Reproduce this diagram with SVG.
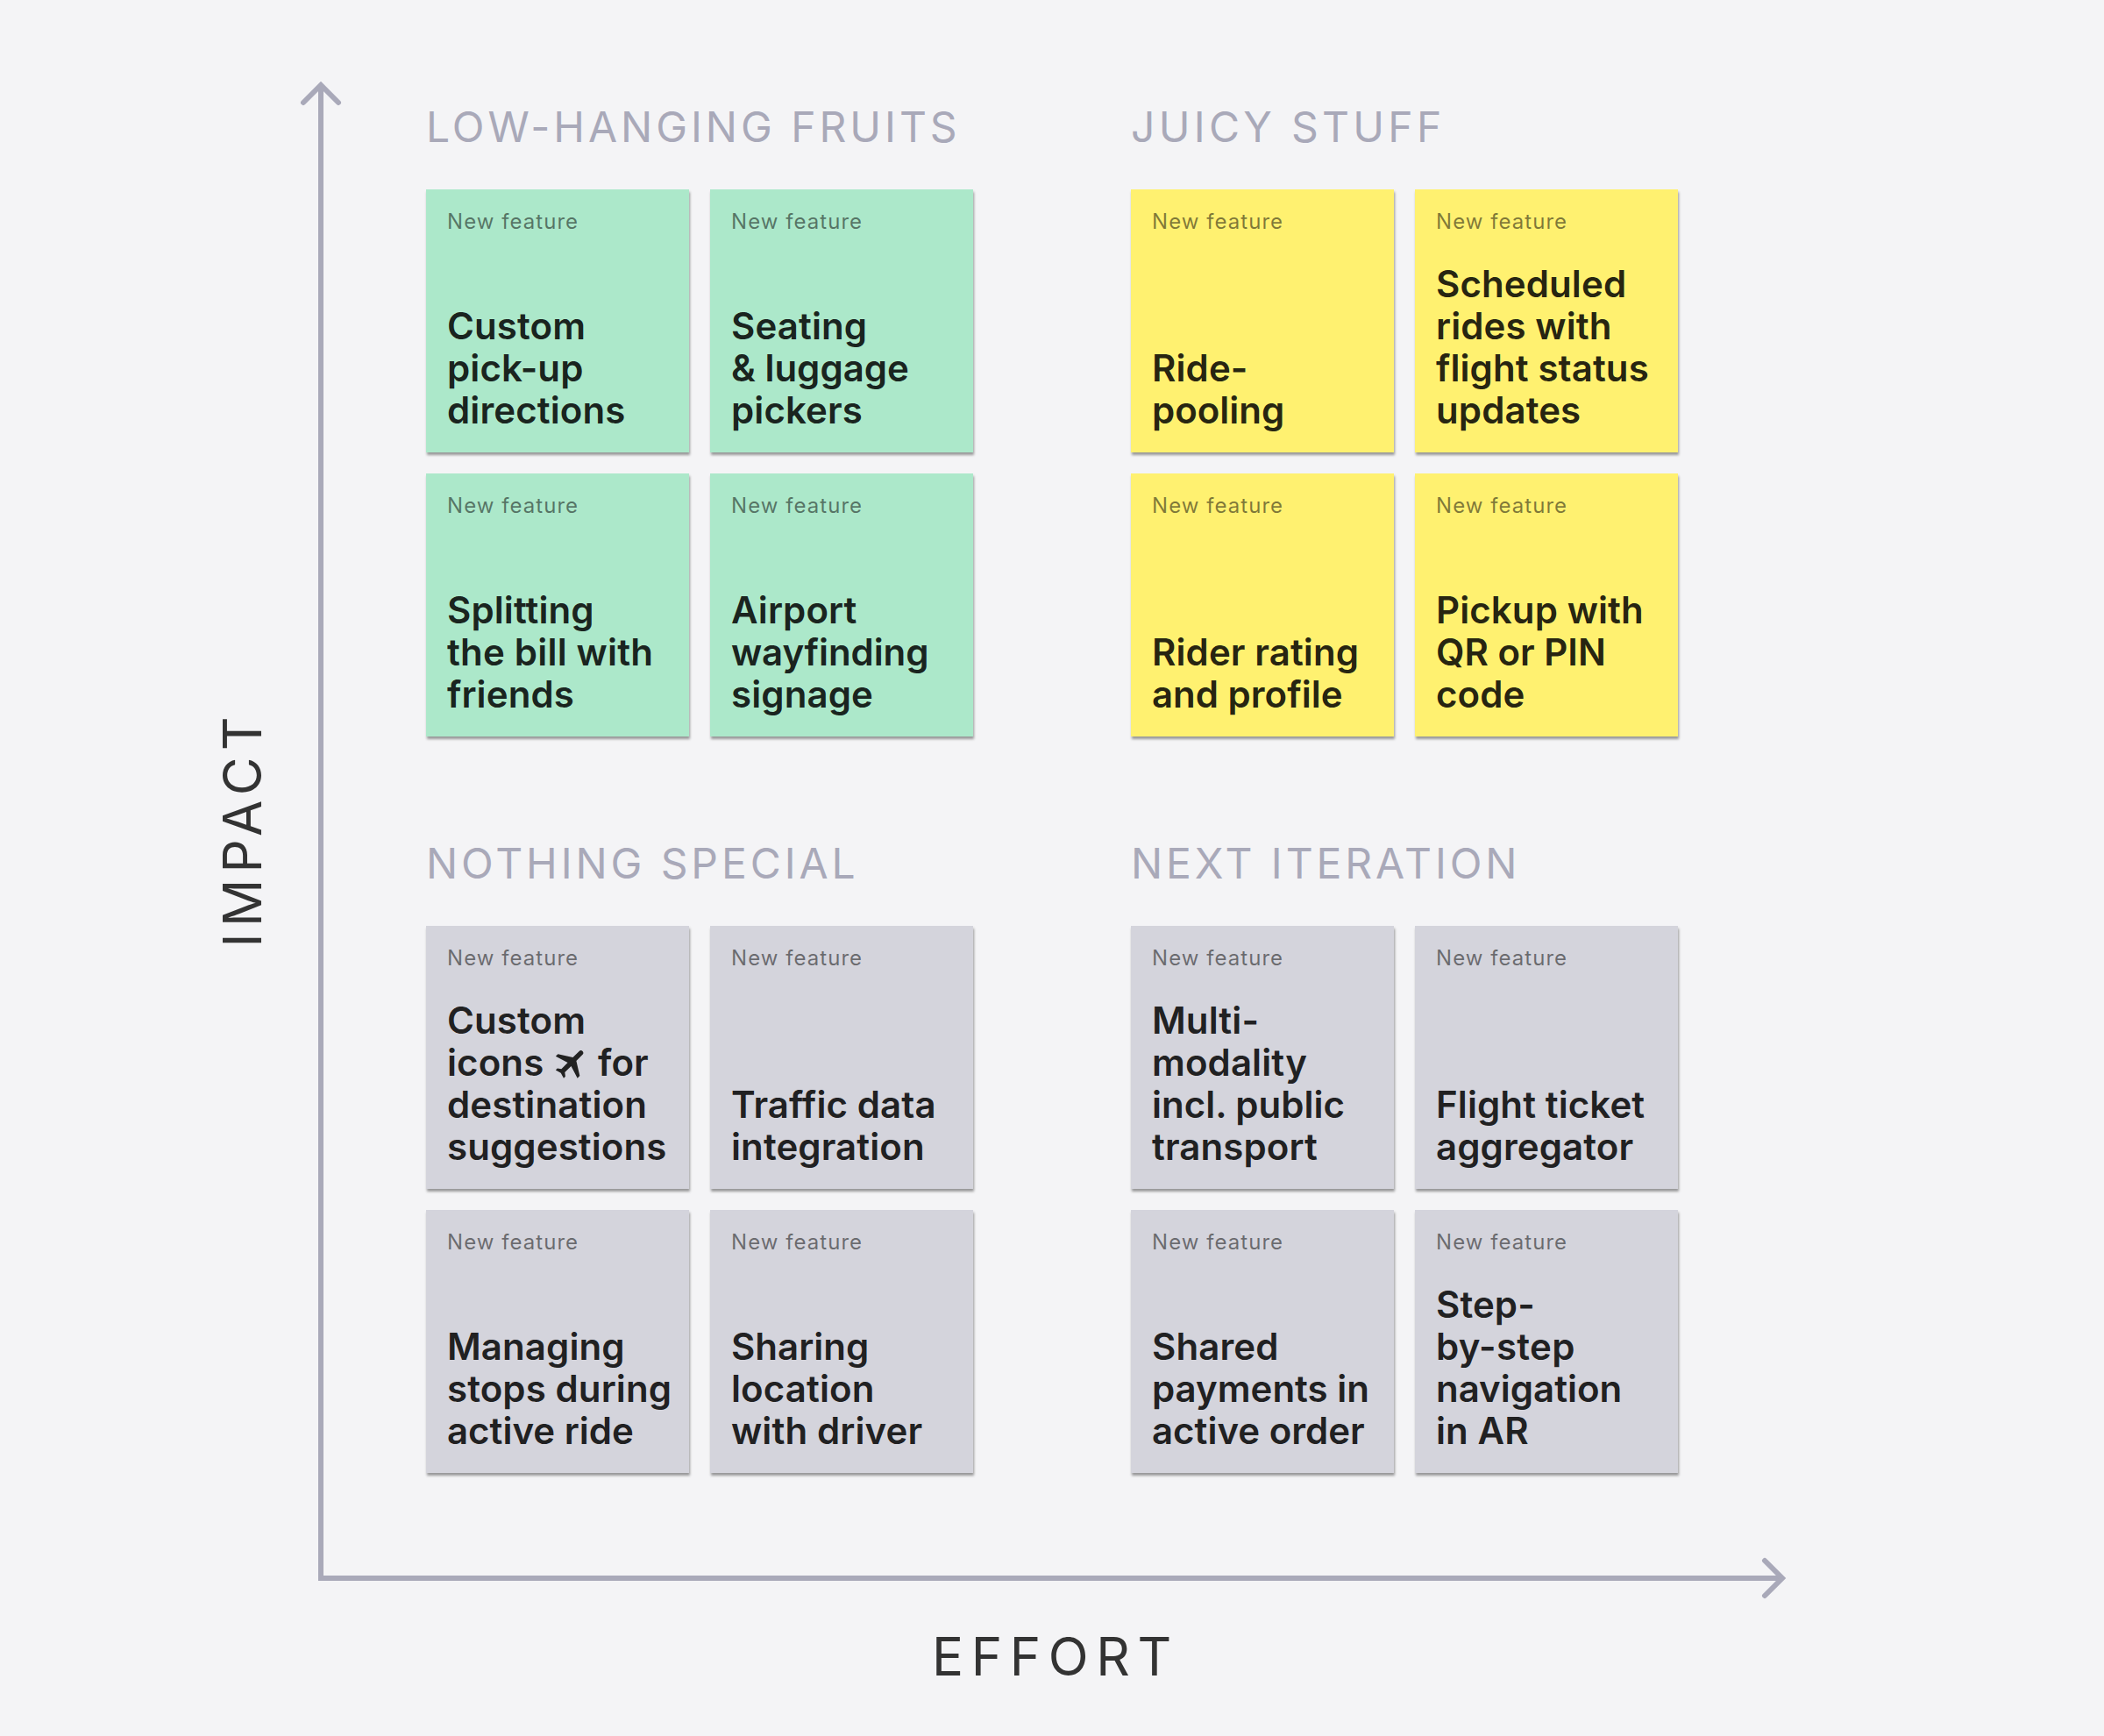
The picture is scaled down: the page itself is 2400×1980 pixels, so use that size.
<svg xmlns="http://www.w3.org/2000/svg" width="2400" height="1980" viewBox="0 0 2400 1980">
<style>
text{font-family:Inter,"Noto Sans","Liberation Sans",sans-serif}
.card{filter:url(#sh)}
.g{fill:#ace8ca}.y{fill:#fff170}.n{fill:#d4d4dc}
.lab{font-size:24px;letter-spacing:1.05px;fill:#000;fill-opacity:.5}
.t{font-size:42px;font-weight:600;letter-spacing:.1px;fill:#000;fill-opacity:.87}
.sec{font-size:48px;letter-spacing:3.9px;fill:#a9a9b9}
.ax{font-size:60px;fill:#333}
.axis{fill:none;stroke:#a9a9b9;stroke-width:6;marker-end:url(#ah)}
</style>
<defs>
<filter id="sh" x="-5%" y="-5%" width="110%" height="110%"><feDropShadow dx="1" dy="3" stdDeviation="1.5" flood-color="#000" flood-opacity=".38"/></filter>
<marker id="ah" markerUnits="userSpaceOnUse" markerWidth="60" markerHeight="60" refX="40" refY="30" orient="auto" overflow="visible"><path d="M20 10L40 30L20 50" fill="none" stroke="#a9a9b9" stroke-width="6" stroke-linecap="round" stroke-linejoin="miter"/></marker>
</defs>
<rect width="2400" height="1980" fill="#f4f4f6"/>
<g id="connectors">
<path class="axis" d="M366 1800V97"/>
<path class="axis" d="M363 1800H2033"/>
</g>
<g id="axis-labels">
<text id="label-impact" class="ax" letter-spacing="7.4" transform="translate(297.500 1080.500) rotate(-90)">IMPACT</text>
<text id="label-effort" class="ax" letter-spacing="8.6" x="1063" y="1911">EFFORT</text>
</g>
<g id="section-titles">
<text class="sec" x="486" y="162" style="letter-spacing:3.97px">LOW-HANGING FRUITS</text>
<text class="sec" x="1290" y="162" style="letter-spacing:4.3px">JUICY STUFF</text>
<text class="sec" x="486" y="1002">NOTHING SPECIAL</text>
<text class="sec" x="1290" y="1002">NEXT ITERATION</text>
</g>
<g id="card-1"><rect class="card g" x="486" y="216" width="300" height="300"/><text class="lab" x="510" y="261">New feature</text><text class="t" x="510"><tspan x="510" y="387">Custom</tspan><tspan x="510" y="435">pick-up</tspan><tspan x="510" y="483">directions</tspan></text></g>
<g id="card-2"><rect class="card g" x="810" y="216" width="300" height="300"/><text class="lab" x="834" y="261">New feature</text><text class="t"><tspan x="834" y="387">Seating</tspan><tspan x="834" y="435" style="letter-spacing:0">&amp; luggage</tspan><tspan x="834" y="483">pickers</tspan></text></g>
<g id="card-3"><rect class="card g" x="486" y="540" width="300" height="300"/><text class="lab" x="510" y="585">New feature</text><text class="t"><tspan x="510" y="711">Splitting</tspan><tspan x="510" y="759" style="letter-spacing:.2px">the bill with</tspan><tspan x="510" y="807">friends</tspan></text></g>
<g id="card-4"><rect class="card g" x="810" y="540" width="300" height="300"/><text class="lab" x="834" y="585">New feature</text><text class="t"><tspan x="834" y="711">Airport</tspan><tspan x="834" y="759" style="letter-spacing:-.1px">wayfinding</tspan><tspan x="834" y="807">signage</tspan></text></g>
<g id="card-5"><rect class="card y" x="1290" y="216" width="300" height="300"/><text class="lab" x="1314" y="261">New feature</text><text class="t"><tspan x="1314" y="435">Ride-</tspan><tspan x="1314" y="483" style="letter-spacing:0">pooling</tspan></text></g>
<g id="card-6"><rect class="card y" x="1614" y="216" width="300" height="300"/><text class="lab" x="1638" y="261">New feature</text><text class="t"><tspan x="1638" y="339">Scheduled</tspan><tspan x="1638" y="387">rides with</tspan><tspan x="1638" y="435">flight status</tspan><tspan x="1638" y="483">updates</tspan></text></g>
<g id="card-7"><rect class="card y" x="1290" y="540" width="300" height="300"/><text class="lab" x="1314" y="585">New feature</text><text class="t"><tspan x="1314" y="759">Rider rating</tspan><tspan x="1314" y="807" style="letter-spacing:0">and profile</tspan></text></g>
<g id="card-8"><rect class="card y" x="1614" y="540" width="300" height="300"/><text class="lab" x="1638" y="585">New feature</text><text class="t"><tspan x="1638" y="711">Pickup with</tspan><tspan x="1638" y="759" style="letter-spacing:0">QR or PIN</tspan><tspan x="1638" y="807">code</tspan></text></g>
<g id="card-9"><rect class="card n" x="486" y="1056" width="300" height="300"/><text class="lab" x="510" y="1101">New feature</text><text class="t"><tspan x="510" y="1179">Custom</tspan><tspan x="510" y="1227">icons</tspan><tspan x="682" y="1227">for</tspan><tspan x="510" y="1275">destination</tspan><tspan x="510" y="1323">suggestions</tspan></text><path fill="#222" transform="translate(651.500 1212) rotate(45) scale(1.85) translate(-11.500 -12)" d="M21 16v-2l-8-5V3.500c0-.83-.67-1.500-1.500-1.500S10 2.670 10 3.500V9l-8 5v2l8-2.500V19l-2 1.500V22l3.500-1 3.500 1v-1.500L13 19v-5.500l8 2.500z"/></g>
<g id="card-10"><rect class="card n" x="810" y="1056" width="300" height="300"/><text class="lab" x="834" y="1101">New feature</text><text class="t"><tspan x="834" y="1275">Traffic data</tspan><tspan x="834" y="1323">integration</tspan></text></g>
<g id="card-11"><rect class="card n" x="486" y="1380" width="300" height="300"/><text class="lab" x="510" y="1425">New feature</text><text class="t"><tspan x="510" y="1551">Managing</tspan><tspan x="510" y="1599">stops during</tspan><tspan x="510" y="1647" style="letter-spacing:0">active ride</tspan></text></g>
<g id="card-12"><rect class="card n" x="810" y="1380" width="300" height="300"/><text class="lab" x="834" y="1425">New feature</text><text class="t"><tspan x="834" y="1551" style="letter-spacing:0">Sharing</tspan><tspan x="834" y="1599">location</tspan><tspan x="834" y="1647" style="letter-spacing:.1px">with driver</tspan></text></g>
<g id="card-13"><rect class="card n" x="1290" y="1056" width="300" height="300"/><text class="lab" x="1314" y="1101">New feature</text><text class="t"><tspan x="1314" y="1179">Multi-</tspan><tspan x="1314" y="1227">modality</tspan><tspan x="1314" y="1275" style="letter-spacing:0">incl. public</tspan><tspan x="1314" y="1323">transport</tspan></text></g>
<g id="card-14"><rect class="card n" x="1614" y="1056" width="300" height="300"/><text class="lab" x="1638" y="1101">New feature</text><text class="t"><tspan x="1638" y="1275">Flight ticket</tspan><tspan x="1638" y="1323">aggregator</tspan></text></g>
<g id="card-15"><rect class="card n" x="1290" y="1380" width="300" height="300"/><text class="lab" x="1314" y="1425">New feature</text><text class="t"><tspan x="1314" y="1551">Shared</tspan><tspan x="1314" y="1599" style="letter-spacing:0">payments in</tspan><tspan x="1314" y="1647" style="letter-spacing:0">active order</tspan></text></g>
<g id="card-16"><rect class="card n" x="1614" y="1380" width="300" height="300"/><text class="lab" x="1638" y="1425">New feature</text><text class="t"><tspan x="1638" y="1503">Step-</tspan><tspan x="1638" y="1551" style="letter-spacing:.3px">by-step</tspan><tspan x="1638" y="1599" style="letter-spacing:0">navigation</tspan><tspan x="1638" y="1647">in AR</tspan></text></g>
</svg>
